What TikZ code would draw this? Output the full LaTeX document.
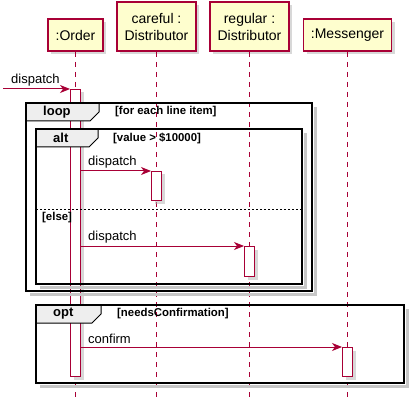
\documentclass[tikz,border=0pt]{standalone}
\usepackage{fontspec}
\setmainfont{Liberation Sans}
\usetikzlibrary{arrows.meta,shadows}
\definecolor{umlred}{HTML}{A80036}
\definecolor{umlyellow}{HTML}{FEFECE}
\definecolor{umltab}{HTML}{EEEEEE}

\begin{document}
\begin{tikzpicture}[x=1pt,y=-1pt,
  part/.style={draw=umlred,fill=umlyellow,line width=1.5pt,align=center,inner sep=0pt,
    anchor=south,font=\fontsize{14}{16.5}\selectfont,
    drop shadow={shadow xshift=3pt,shadow yshift=-3pt,fill=black!30}},
  life/.style={draw=umlred,line width=0.8pt,dash pattern=on 5pt off 5pt},
  actbar/.style={draw=umlred,fill=white,line width=1pt,minimum width=10pt,inner sep=0pt,
    anchor=north,drop shadow={shadow xshift=3pt,shadow yshift=-3pt,fill=black!30}},
  msg/.style={draw=umlred,line width=1pt,-{Stealth[length=10pt,width=8pt,inset=3pt]}},
  msglabel/.style={font=\fontsize{13}{15}\selectfont,anchor=south west,inner sep=0pt},
  frame/.style={draw=black,line width=1.5pt},
  frameshadow/.style={draw=black!22,line width=3pt},
  tab/.style={draw=black,fill=umltab,line width=1pt},
  head/.style={font=\bfseries\fontsize{13}{15}\selectfont,anchor=west,inner sep=0pt},
  guard/.style={font=\bfseries\fontsize{11.4}{13}\selectfont,anchor=west,inner sep=0pt}]
  \useasboundingbox (0,0) rectangle (413,412);

  % participants and lifelines
  \node[part,minimum width=55pt,minimum height=32pt] (order) at (75.5,52) {:Order};
  \node[part,minimum width=79pt,minimum height=49pt] (careful) at (156.5,52) {careful :\\Distributor};
  \node[part,minimum width=79pt,minimum height=49pt] (regular) at (249.5,52) {regular :\\Distributor};
  \node[part,minimum width=88pt,minimum height=32pt] (messenger) at (347.5,52) {:Messenger};
  \coordinate (bottom) at (0,401);
  \draw[life] (order.south) -- (order.south |- bottom);
  \draw[life] (careful.south) -- (careful.south |- bottom);
  \draw[life] (regular.south) -- (regular.south |- bottom);
  \draw[life] (messenger.south) -- (messenger.south |- bottom);

  % activations
  \node[actbar,minimum height=287pt] (actO) at (75.5,89) {};
  \node[actbar,minimum height=29pt] (actC) at (156.5,171) {};
  \node[actbar,minimum height=30pt] (actR) at (249.5,246) {};
  \node[actbar,minimum height=29pt] (actM) at (347.5,347) {};

  % loop
  \draw[frameshadow] (30,294) -| (315,107);
  \draw[tab] (26,103) -- (99,103) -- (99,112) -- (90,121) -- (26,121) -- cycle;
  \draw[frame] (26,103) rectangle (312,291);
  \node[head] (loophead) at (43,112) {loop};
  \node[guard] (loopguard) at (115,112) {[for each line item]};

  % alt
  \draw[frameshadow] (40,287) -| (305,133);
  \draw[tab] (36,129) -- (98,129) -- (98,138) -- (89,147) -- (36,147) -- cycle;
  \draw[frame] (36,129) rectangle (302,284);
  \node[head] (althead) at (53,138) {alt};
  \node[guard] (altguard) at (113,138) {[value > \$10000]};
  \draw[line width=0.8pt,dash pattern=on 2pt off 2pt] (36,209) -- (302,209);
  \node[guard] (elseguard) at (42,218) {[else]};

  % opt
  \draw[frameshadow] (40,386) -| (407,309);
  \draw[tab] (36,305) -- (101,305) -- (101,314) -- (92,323) -- (36,323) -- cycle;
  \draw[frame] (36,305) rectangle (404,383);
  \node[head] (opthead) at (53,314) {opt};
  \node[guard] (optguard) at (117,314) {[needsConfirmation]};

  % messages
  \coordinate (start) at (3,89);
  \draw[msg] (start) -- (actO.north west);
  \node[msglabel] (m0) at (11,86) {dispatch};
  \draw[msg] (actO.east |- actC.north) -- (actC.north west);
  \node[msglabel] (m1) at (88,168) {dispatch};
  \draw[msg] (actO.east |- actR.north) -- (actR.north west);
  \node[msglabel] (m2) at (88,243) {dispatch};
  \draw[msg] (actO.east |- actM.north) -- (actM.north west);
  \node[msglabel] (m3) at (88,344) {confirm};
\end{tikzpicture}
\end{document}
